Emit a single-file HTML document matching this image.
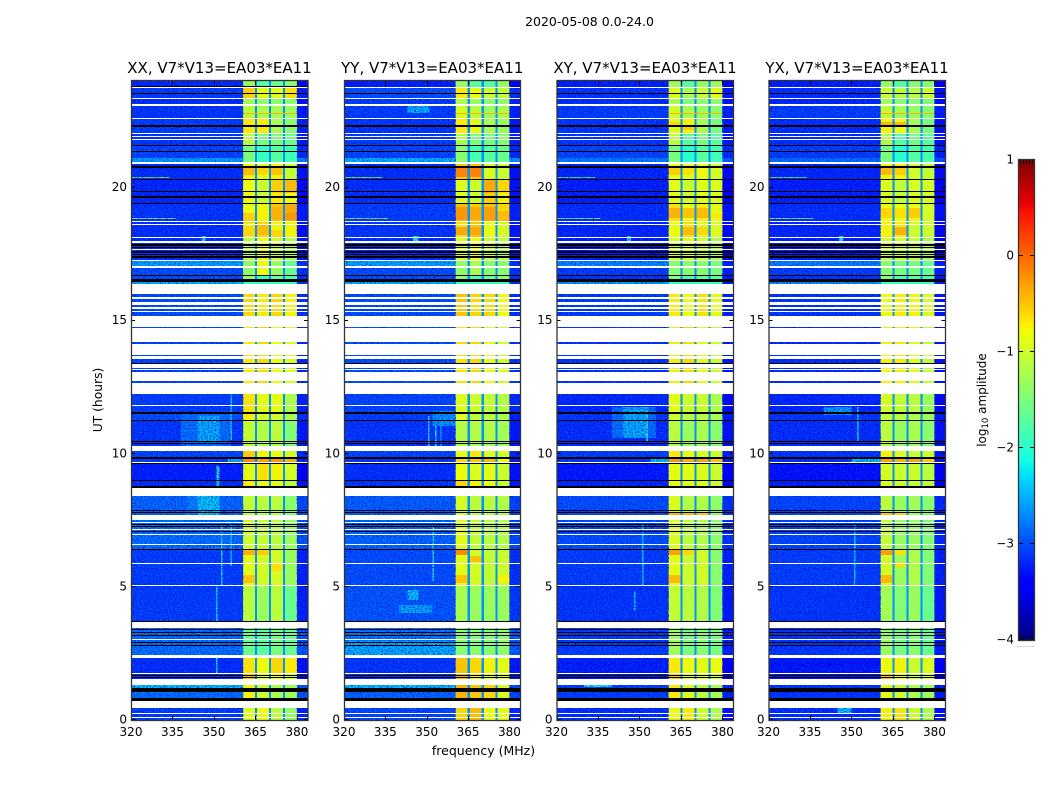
<!DOCTYPE html>
<html lang="en">
<head>
<meta charset="utf-8">
<title>2020-05-08 amplitude waterfall</title>
<style>
html,body{margin:0;padding:0;background:#fff;width:1050px;height:800px;overflow:hidden}
svg{display:block;position:absolute;left:0;top:0}
text{font-family:"DejaVu Sans","Liberation Sans",sans-serif;fill:#000}
rect.c{shape-rendering:crispEdges}
</style>
</head>
<body>
<svg id="fig" xmlns="http://www.w3.org/2000/svg" width="1050" height="800" viewBox="0 0 1050 800">
<defs>
<filter id="speckle-dark" x="0" y="0" width="1" height="1" color-interpolation-filters="sRGB">
<feTurbulence type="fractalNoise" baseFrequency="0.6 0.95" numOctaves="2" seed="4"/>
<feColorMatrix values="0 0 0 0 0  0 0 0 0 0  0 0 0 0 0.86  3.4 0 0 0 -1.45"/>
</filter>
<filter id="speckle-light" x="0" y="0" width="1" height="1" color-interpolation-filters="sRGB">
<feTurbulence type="fractalNoise" baseFrequency="0.6 0.95" numOctaves="2" seed="11"/>
<feColorMatrix values="0 0 0 0 0  0 0 0 0 0.58  0 0 0 0 1  0 3.2 0 0 -1.6"/>
</filter>
</defs>
<text x="589.5" y="26" font-size="12.5" text-anchor="middle">2020-05-08 0.0-24.0</text>
<text x="483.5" y="755" font-size="12.5" text-anchor="middle">frequency (MHz)</text>
<text x="102" y="400" font-size="12.3" text-anchor="middle" transform="rotate(-90 102 400)">UT (hours)</text>
<text x="986" y="400" font-size="12" text-anchor="middle" transform="rotate(-90 986 400)">log<tspan font-size="8.5" dy="2">10</tspan><tspan dy="-2"> amplitude</tspan></text>
</svg>
<script>
// ---------- chart data ----------
const panelNames = ['XX', 'YY', 'XY', 'YX'];
const baselineLabel = 'V7*V13=EA03*EA11';
const freqTicks = [320, 335, 350, 365, 380];
const utTicks = [0, 5, 10, 15, 20];
const colorbarTicks = [-4, -3, -2, -1, 0, 1];

// integration rows (row 0 = 24 UT, row 639 = 0 UT) for each block of similar amplitude
const bandStartRow = [0,6,17,24,37,52,64,77,82,98,122,140,156,179,194,213,246,313,331,339,370,377,382,399,415,439,469,504,547,577,592,604,619];
const bandEndRow   = [6,17,24,37,52,64,77,82,98,122,140,156,179,194,203,246,313,331,339,365,377,382,399,407,434,469,504,540,574,592,599,617,639];

// log10 amplitude per block: [off-band, spw1, spw2, spw3, spw4]
const xxLevels = [
[-3.2,-1.3,-1.7,-1.6,-1.4],[-3.05,-0.55,-0.85,-0.85,-0.65],[-3.15,-1.25,-1.35,-1.4,-1.4],[-3.1,-1.1,-1.2,-1.25,-1.3],
[-3.05,-0.7,-0.7,-1.2,-1.4],[-3.1,-1.1,-1.5,-1.5,-1.6],[-3.0,-1.5,-1.9,-1.7,-1.85],[-2.45,-1.5,-1.9,-1.7,-1.85],
[-3.15,-0.75,-0.9,-0.75,-1.05],[-3.2,-0.8,-1.0,-0.7,-0.8],[-3.1,-0.8,-0.75,-0.5,-0.35],[-3.15,-0.85,-0.6,-0.75,-0.75],
[-3.15,-1.1,-0.8,-1.0,-1.2],[-2.95,-1.35,-0.8,-1.3,-1.6],[-2.95,-1.4,-1.9,-1.6,-1.8],[-2.95,-0.6,-0.7,-0.6,-0.75],
[-3.0,-0.7,-0.6,-0.8,-0.9],[-3.05,-0.65,-0.85,-0.85,-1.2],[-2.95,-0.7,-0.95,-0.95,-1.2],[-3.1,-1.05,-1.15,-1.1,-1.45],
[-3.0,-0.55,-0.75,-0.8,-0.95],[-3.05,-0.2,-0.3,-0.25,-0.4],[-3.25,-0.85,-0.65,-0.75,-0.95],[-3.15,-0.7,-0.85,-0.85,-1.1],
[-2.8,-1.05,-1.1,-1.1,-1.4],[-2.75,-1.0,-1.05,-1.1,-1.3],[-3.05,-0.85,-0.95,-0.95,-1.3],[-3.05,-1.1,-1.3,-1.1,-1.6],
[-2.75,-1.6,-1.7,-1.5,-1.6],[-3.15,-0.65,-0.8,-0.6,-0.7],[-3.15,-0.45,-0.9,-0.8,-0.95],[-2.75,-0.75,-1.0,-1.2,-1.25],[-3.05,-0.9,-0.8,-1.1,-1.35]];
const yyLevels = [
[-3.25,-1.3,-1.7,-1.7,-1.3],[-2.95,-0.7,-0.8,-1.0,-1.05],[-3.05,-1.2,-1.3,-1.4,-1.35],[-3.05,-0.95,-1.1,-1.3,-1.2],
[-3.1,-0.7,-0.85,-1.2,-1.3],[-3.05,-1.2,-1.5,-1.5,-1.4],[-3.0,-1.4,-1.8,-1.7,-1.6],[-2.35,-1.4,-1.8,-1.7,-1.6],
[-3.15,-0.5,-0.5,-0.9,-1.0],[-3.15,-0.9,-1.0,-0.55,-0.75],[-3.05,-0.45,-0.55,-0.5,-0.6],[-3.1,-0.65,-0.5,-0.8,-0.95],
[-3.15,-0.9,-0.8,-1.0,-1.1],[-2.95,-1.35,-1.2,-1.4,-1.4],[-2.95,-1.4,-1.8,-1.6,-1.4],[-2.95,-0.5,-0.6,-0.6,-0.8],
[-2.95,-0.65,-0.6,-0.8,-0.95],[-3.0,-0.9,-1.0,-1.05,-1.15],[-3.05,-0.9,-1.1,-1.1,-1.2],[-3.1,-1.15,-1.15,-1.15,-1.25],
[-3.0,-0.85,-0.7,-0.9,-0.95],[-3.1,-0.6,-0.5,-0.45,-0.8],[-3.15,-0.8,-0.9,-0.85,-1.0],[-3.1,-0.6,-0.75,-0.8,-1.0],
[-2.85,-0.95,-1.1,-1.1,-1.15],[-2.8,-0.85,-1.05,-1.1,-1.15],[-2.95,-0.85,-0.95,-1.05,-1.0],[-2.9,-1.2,-1.3,-1.3,-1.3],
[-2.7,-1.4,-1.4,-1.4,-1.35],[-3.1,-0.5,-0.6,-0.75,-0.85],[-3.1,-0.4,-0.7,-0.8,-0.9],[-2.8,-0.4,-0.5,-0.6,-0.9],[-3.0,-0.6,-0.45,-0.8,-0.85]];
const xyLevels = [
[-3.25,-1.25,-1.7,-1.3,-1.3],[-3.1,-0.9,-1.2,-1.0,-0.85],[-3.15,-1.2,-1.5,-1.4,-1.4],[-3.05,-0.95,-1.2,-1.3,-1.4],
[-3.1,-0.85,-0.75,-1.2,-1.5],[-3.1,-1.1,-1.7,-1.5,-1.7],[-3.0,-1.5,-2.0,-1.7,-1.85],[-2.65,-1.5,-2.0,-1.7,-1.85],
[-3.2,-0.8,-0.9,-0.8,-0.95],[-3.25,-0.85,-1.0,-0.85,-0.9],[-3.15,-0.65,-0.8,-0.7,-0.85],[-3.2,-0.8,-0.65,-0.9,-0.9],
[-3.25,-0.95,-0.9,-1.0,-1.2],[-3.05,-1.4,-1.4,-1.4,-1.5],[-3.1,-1.4,-1.8,-1.6,-1.7],[-3.05,-0.7,-0.8,-0.65,-0.85],
[-3.1,-0.7,-0.6,-0.85,-1.0],[-3.2,-0.85,-1.0,-1.0,-1.2],[-3.1,-0.95,-1.1,-1.1,-1.2],[-3.15,-1.1,-1.3,-1.2,-1.4],
[-3.05,-0.7,-0.85,-0.95,-1.0],[-3.1,-0.25,-0.35,-0.3,-0.5],[-3.3,-0.85,-0.85,-0.9,-1.0],[-3.2,-0.8,-0.9,-0.9,-1.0],
[-2.95,-0.9,-1.15,-1.15,-1.35],[-2.95,-0.9,-1.1,-1.15,-1.4],[-3.05,-0.85,-1.0,-0.95,-1.4],[-3.1,-1.05,-1.1,-1.15,-1.45],
[-3.05,-1.25,-1.5,-1.4,-1.5],[-3.25,-0.7,-0.8,-0.85,-0.8],[-3.25,-0.5,-0.9,-0.9,-1.0],[-3.05,-0.7,-0.9,-1.1,-1.2],[-3.15,-0.8,-0.7,-1.0,-1.2]];
const yxLevels = [
[-3.25,-1.3,-1.7,-1.4,-1.4],[-3.15,-1.0,-1.1,-1.1,-1.0],[-3.2,-1.25,-1.4,-1.4,-1.45],[-3.05,-1.05,-1.25,-1.3,-1.4],
[-3.15,-0.75,-0.8,-1.2,-1.5],[-3.15,-1.15,-1.7,-1.55,-1.7],[-3.05,-1.5,-2.0,-1.7,-1.8],[-2.75,-1.5,-2.0,-1.7,-1.8],
[-3.2,-0.75,-0.75,-0.95,-1.05],[-3.25,-0.9,-1.05,-0.9,-0.95],[-3.15,-0.8,-0.8,-0.8,-0.95],[-3.2,-0.75,-0.7,-1.0,-1.0],
[-3.25,-1.0,-1.0,-1.05,-1.2],[-3.05,-1.4,-1.5,-1.5,-1.6],[-3.1,-1.4,-1.8,-1.65,-1.75],[-3.1,-0.8,-0.7,-0.75,-0.9],
[-3.15,-0.75,-0.7,-0.85,-1.05],[-3.2,-0.95,-1.05,-1.1,-1.3],[-3.1,-1.05,-1.15,-1.15,-1.3],[-3.15,-1.1,-1.3,-1.2,-1.4],
[-3.1,-0.75,-0.9,-1.0,-1.0],[-3.15,-0.3,-0.4,-0.35,-0.55],[-3.35,-0.95,-1.0,-1.0,-1.1],[-3.25,-0.9,-1.0,-1.0,-1.05],
[-3.0,-1.1,-1.3,-1.25,-1.4],[-3.0,-1.05,-1.3,-1.3,-1.45],[-3.05,-0.95,-1.3,-1.15,-1.45],[-3.1,-1.25,-1.45,-1.3,-1.6],
[-3.1,-1.3,-1.5,-1.4,-1.6],[-3.3,-0.8,-0.75,-1.0,-0.9],[-3.3,-0.5,-0.8,-1.0,-1.0],[-3.1,-0.85,-1.0,-1.15,-1.25],[-3.15,-0.75,-0.65,-1.0,-1.2]];

// spectral windows in MHz and the level of the gaps between them
const spwStartMHz = [360.5, 365.6, 370.7, 375.7];
const spwEndMHz   = [364.8, 369.9, 374.9, 380];
const offBandStartMHz = [320, 380];
const offBandEndMHz   = [360.5, 384];
const gapLevel = [-2.65];

// localized features: [startMHz, endMHz, startRow, endRow, log10 amplitude]
const xxFeatures = [[338,356,331,365,-2.75],[344,352,335,361,-2.4],[340,355,415,434,-2.65],[344,352,415,434,-2.25],[352,360.5,415,434,-2.8],[355,360.5,377,381,-2.4],
[350.8,351.3,504,540,-2.2],[352.5,353,444,504,-2.0],[356,356.5,444,485,-2.2],[350.8,351.3,574,592,-2.1],[356,356.5,314,359,-2.2],[351,352,385,406,-2.0],
[320,336,137,138,-1.2],[320,334,96,97,-1.4],[345.5,347,155,160,-1.8],[360.5,380,32,33,-0.4],[320,360.5,604,607,-2.3],
[320,360.5,180,185,-2.45],[320,360.5,201,203,-2.35],[360.5,380,201,203,-1.9],
[360.5,364.8,86,94,-0.45],[365.6,369.9,87,94,-0.6],[370.7,374.9,87,94,-0.5],[370.7,374.9,99,112,-0.55],[375.7,380,99,112,-0.45],
[370.7,374.9,126,139,-0.4],[375.7,380,132,139,-0.25],[360.5,364.8,132,142,-0.55],[365.6,369.9,144,154,-0.45],[360.5,364.8,145,155,-0.6],[370.7,374.9,149,156,-0.6],
[360.5,364.8,469,474,-0.4],[365.6,369.9,469,474,-0.55],[360.5,364.8,494,502,-0.5],[370.7,374.9,483,490,-0.65]];
const yyFeatures = [[343,351,24,32,-2.4],[320,360.5,560,574,-2.4],[343,347,509,519,-2.3],[340,352,524,532,-2.45],[352,360.5,330,345,-2.55],
[350.5,351,335,370,-2.0],[353,353.5,345,365,-2.1],[355,355.4,345,370,-2.2],[352,352.6,444,500,-2.0],[320,336,137,138,-1.2],[320,334,96,97,-1.4],
[345,347,155,160,-1.9],[360.5,380,32,33,-0.4],[320,360.5,604,607,-2.3],
[320,360.5,180,185,-2.45],[320,360.5,201,203,-2.35],[360.5,380,201,203,-1.9],
[360.5,364.8,87,96,-0.15],[365.6,369.9,87,96,-0.15],[370.7,374.9,99,112,-0.35],[375.7,380,99,112,-0.6],
[360.5,364.8,126,139,-0.25],[365.6,369.9,126,139,-0.35],[370.7,374.9,126,140,-0.3],[375.7,380,130,140,-0.45],[360.5,364.8,146,154,-0.35],[365.6,369.9,146,154,-0.35],
[360.5,364.8,469,474,-0.2],[360.5,364.8,494,502,-0.5],[365.6,369.9,475,481,-0.5],[375.7,380,494,502,-0.75]];
const xyFeatures = [[340,356,326,357,-2.75],[344,353,326,357,-2.4],[354,360.5,377,382,-2.3],[351,351.5,444,504,-2.2],[348,348.5,510,530,-2.2],[352.5,353,326,360,-2.0],
[320,336,137,138,-1.3],[320,334,96,97,-1.6],[345.5,347,155,160,-2.0],[360.5,380,32,33,-0.4],[330,340,604,606,-2.0],
[320,360.5,180,185,-2.6],[320,360.5,201,203,-2.5],[360.5,380,201,203,-1.9],
[360.5,364.8,41,44,-0.6],[365.6,369.9,46,49,-0.55],[360.5,364.8,87,94,-0.55],[365.6,369.9,87,94,-0.65],
[360.5,364.8,127,137,-0.4],[365.6,369.9,127,137,-0.5],[370.7,374.9,127,137,-0.45],[375.7,380,132,137,-0.7],[365.6,369.9,146,154,-0.45],[370.7,374.9,146,154,-0.6],
[360.5,364.8,431,434,-0.4],[365.6,369.9,431,434,-0.45],[370.7,374.9,431,434,-0.5],[360.5,364.8,469,474,-0.3],[365.6,369.9,469,474,-0.6],[360.5,364.8,494,502,-0.45]];
const yxFeatures = [[340,350,326,334,-2.5],[350,360.5,377,382,-2.3],[345,350,627,632,-2.3],[351,351.5,444,504,-2.2],[352,352.5,326,360,-2.1],
[320,336,137,138,-1.3],[320,334,96,97,-1.6],[345.5,347,155,160,-2.0],[360.5,380,32,33,-0.4],
[320,360.5,180,185,-2.65],[320,360.5,201,203,-2.55],[360.5,380,201,203,-1.9],
[360.5,364.8,41,45,-0.45],[365.6,369.9,41,45,-0.45],[360.5,364.8,87,94,-0.45],[365.6,369.9,87,94,-0.55],
[360.5,364.8,127,137,-0.6],[365.6,369.9,127,137,-0.65],[370.7,374.9,127,137,-0.55],[365.6,369.9,146,154,-0.4],
[360.5,364.8,431,434,-0.5],[365.6,369.9,431,434,-0.6],[360.5,364.8,469,474,-0.3],[365.6,369.9,469,474,-0.65],[360.5,364.8,494,502,-0.45],[365.6,369.9,481,486,-0.65]];

// rows with no data (white) as [start, end]
const flaggedRows = [[6,7],[17,18],[23,25],[37,38],[52,53],[55,56],[58,59],[81,83],[140,141],[143,144],[156,157],[160,162],[168,169],[179,180],[185,187],
[203,213],[216,218],[221,224],[226,228],[230,231],[235,246],[247,261],[263,274],[275,278],[283,287],[288,289],[291,300],[302,313],
[324,325],[365,370],[381,382],[407,415],[434,439],[441,442],[448,449],[453,454],[463,464],[482,483],[504,505],[541,547],[558,559],[574,577],[592,593],[598,604],[620,627],[632,633],[636,637]];
// rows drawn black as [start, end]
const blackRows = [[12,13],[44,46],[64,65],[70,71],[85,87],[98,99],[110,111],[115,117],[122,123],[163,165],[166,167],[170,172],[173,174],[175,177],
[194,195],[198,201],[282,283],[331,333],[339,340],[360,361],[362,363],[376,378],[382,383],[399,400],[405,407],[429,430],[431,432],[443,444],[445,446],[450,451],[468,469],
[540,541],[548,549],[551,552],[554,555],[561,562],[564,565],[594,595],[596,597],[607,611],[617,620]];
const rowCount = [639];

// ---------- layout (not data) ----------
const panelLeft = [131, 344, 556.5, 768.5];
const panelWidths = [177, 176.5, 177, 177];
const panelTop = 81, panelHeight = 639;
const levelsByPanel = [xxLevels, yyLevels, xyLevels, yxLevels];
const featuresByPanel = [xxFeatures, yyFeatures, xyFeatures, yxFeatures];
const NS = 'http://www.w3.org/2000/svg';
const fig = document.getElementById('fig');

function interp(stops, t) {
  for (let i = 1; i < stops.length; i++) {
    if (t <= stops[i][0]) {
      const a = stops[i - 1], b = stops[i];
      return a[1] + (b[1] - a[1]) * (t - a[0]) / (b[0] - a[0]);
    }
  }
  return stops[stops.length - 1][1];
}
const jetR = [[0,0],[0.35,0],[0.66,1],[0.89,1],[1,0.5]];
const jetG = [[0,0],[0.125,0],[0.375,1],[0.64,1],[0.91,0],[1,0]];
const jetB = [[0,0.5],[0.11,1],[0.34,1],[0.65,0],[1,0]];
function colorOf(level) {
  const t = Math.max(0, Math.min(1, (level + 4) / 5));
  const c = s => Math.round(255 * interp(s, t));
  return 'rgb(' + c(jetR) + ',' + c(jetG) + ',' + c(jetB) + ')';
}
function rowToUT(r) { return 24 - r * 24 / rowCount[0]; }
function timeY(ut) { return panelTop + (24 - ut) / 24 * panelHeight; }
function freqX(p, mhz) { return panelLeft[p] + (mhz - 320) / 64 * panelWidths[p]; }

function cell(parent, p, f0, f1, r0, r1, fill, name) {
  const el = document.createElementNS(NS, 'rect');
  const x0 = freqX(p, f0), x1 = freqX(p, f1), y0 = timeY(rowToUT(r0)), y1 = timeY(rowToUT(r1));
  el.setAttribute('class', 'c');
  el.setAttribute('x', x0.toFixed(2));
  el.setAttribute('y', y0.toFixed(2));
  el.setAttribute('width', (x1 - x0).toFixed(2));
  el.setAttribute('height', (y1 - y0).toFixed(2));
  el.setAttribute('fill', fill);
  
  
  parent.appendChild(el);
  return el;
}
function line(parent, x1, y1, x2, y2, name) {
  const el = document.createElementNS(NS, 'line');
  el.setAttribute('x1', x1); el.setAttribute('y1', y1);
  el.setAttribute('x2', x2); el.setAttribute('y2', y2);
  el.setAttribute('stroke', '#000');
  el.setAttribute('stroke-width', '1');
  
  
  parent.appendChild(el);
}
function label(parent, x, y, txt, anchor, size, name) {
  const el = document.createElementNS(NS, 'text');
  el.setAttribute('x', x); el.setAttribute('y', y);
  el.setAttribute('text-anchor', anchor);
  el.setAttribute('font-size', size);
  
  
  el.textContent = txt;
  parent.appendChild(el);
}
function speckle(parent, p, f0, f1, filterId, opacity, name) {
  const el = document.createElementNS(NS, 'rect');
  el.setAttribute('x', freqX(p, f0));
  el.setAttribute('y', panelTop);
  el.setAttribute('width', freqX(p, f1) - freqX(p, f0));
  el.setAttribute('height', panelHeight);
  el.setAttribute('filter', 'url(#' + filterId + ')');
  el.setAttribute('opacity', opacity);
  
  
  parent.appendChild(el);
}

panelNames.forEach(function (pol, p) {
  const g = document.createElementNS(NS, 'g');
  
  
  fig.appendChild(g);

  const levels = levelsByPanel[p];
  bandStartRow.forEach(function (start, b) {
    const end = bandEndRow[b], lv = levels[b];
    offBandStartMHz.forEach(function (f0, k) {
      cell(g, p, f0, offBandEndMHz[k], start, end, colorOf(lv[0] - (k ? 0.12 : 0)), 'heatmap-offband-cell');
    });
    cell(g, p, spwEndMHz[0], spwStartMHz[1], start, end, colorOf(gapLevel[0]), 'heatmap-gap-cell');
    cell(g, p, spwEndMHz[1], spwStartMHz[2], start, end, colorOf(gapLevel[0]), 'heatmap-gap-cell');
    cell(g, p, spwEndMHz[2], spwStartMHz[3], start, end, colorOf(gapLevel[0]), 'heatmap-gap-cell');
    spwStartMHz.forEach(function (f0, k) {
      cell(g, p, f0, spwEndMHz[k], start, end, colorOf(lv[k + 1]), 'heatmap-spw-cell');
    });
  });
  featuresByPanel[p].forEach(function (f) {
    cell(g, p, f[0], f[1], f[2], f[3], colorOf(f[4]), 'heatmap-feature');
  });

  speckle(g, p, 320, 360.5, 'speckle-dark', 0.8, 'noise-texture-dark');
  speckle(g, p, 320, 360.5, 'speckle-light', 0.6, 'noise-texture-light');
  speckle(g, p, 380, 384, 'speckle-dark', 0.8, 'noise-texture-dark');
  speckle(g, p, 360.5, 380, 'speckle-light', 0.1, 'noise-texture-band');

  flaggedRows.forEach(function (r) {
    cell(g, p, 320, 384, r[0], r[1], '#ffffff', 'flagged-rows');
  });
  blackRows.forEach(function (r) {
    cell(g, p, 320, 384, r[0], r[1], '#000000', 'masked-rows');
  });
  if (p === 0) {
    cell(g, p, 320, 384, 5, 6, '#000000', 'masked-rows');
  }

  const left = panelLeft[p], right = left + panelWidths[p], bottom = panelTop + panelHeight;
  freqTicks.forEach(function (f) {
    const x = Math.round(freqX(p, f)) + 0.5;
    line(g, x, bottom, x, bottom - 4, 'x-tick');
    line(g, x, panelTop, x, panelTop + 4, 'x-tick-top');
    label(g, freqX(p, f), bottom + 16, String(f), 'middle', 12, 'x-tick-label');
  });
  utTicks.forEach(function (u) {
    const y = Math.round(timeY(u)) - 0.5;
    line(g, left, y, left + 4, y, 'y-tick');
    line(g, right, y, right - 4, y, 'y-tick-right');
    label(g, left - 4, timeY(u) + 3.5, String(u), 'end', 12, 'y-tick-label');
  });

  const frame = document.createElementNS(NS, 'rect');
  frame.setAttribute('x', left + 0.5);
  frame.setAttribute('y', panelTop - 0.5);
  frame.setAttribute('width', panelWidths[p] - 0.5);
  frame.setAttribute('height', panelHeight + 1);
  frame.setAttribute('fill', 'none');
  frame.setAttribute('stroke', '#333');
  frame.setAttribute('stroke-width', '1.3');
  
  
  g.appendChild(frame);

  label(g, left + panelWidths[p] / 2, 73, pol + ', ' + baselineLabel, 'middle', 15, 'panel-title');
});

// ---------- colorbar ----------
const cbarLeft = 1019, cbarRight = 1034, cbarTop = 160, cbarHeight = 480;
const cbarGroup = document.createElementNS(NS, 'g');


fig.appendChild(cbarGroup);
function cbarY(level) { return cbarTop + (1 - level) / 5 * cbarHeight; }
for (let i = 0; i < 240; i++) {
  const el = document.createElementNS(NS, 'rect');
  el.setAttribute('class', 'c');
  el.setAttribute('x', cbarLeft);
  el.setAttribute('y', cbarTop + i * 2);
  el.setAttribute('width', cbarRight - cbarLeft);
  el.setAttribute('height', 2);
  el.setAttribute('fill', colorOf(1 - (i + 0.5) / 240 * 5));
  
  
  cbarGroup.appendChild(el);
}
colorbarTicks.forEach(function (t) {
  const y = Math.round(cbarY(t)) - 0.5;
  if (t > -4 && t < 1) {
    line(cbarGroup, cbarLeft, y, cbarLeft + 4, y, 'colorbar-tick');
    line(cbarGroup, cbarRight, y, cbarRight - 4, y, 'colorbar-tick');
  }
  const txt = (t < 0 ? '\u2212' + Math.abs(t) : String(t));
  label(cbarGroup, 1014, cbarY(t) + 3.5, txt, 'end', 12, 'colorbar-tick-label');
});
[1, 4, 7, 10, 13].forEach(function (d) {
  line(cbarGroup, cbarLeft + d + 0.5, cbarTop, cbarLeft + d + 0.5, cbarTop + 4, 'colorbar-minor-tick');
  line(cbarGroup, cbarLeft + d + 0.5, cbarTop + cbarHeight, cbarLeft + d + 0.5, cbarTop + cbarHeight - 4, 'colorbar-minor-tick');
});
const cbarFrame = document.createElementNS(NS, 'rect');
cbarFrame.setAttribute('x', cbarLeft - 0.5);
cbarFrame.setAttribute('y', cbarTop - 0.5);
cbarFrame.setAttribute('width', cbarRight - cbarLeft + 1);
cbarFrame.setAttribute('height', cbarHeight + 1);
cbarFrame.setAttribute('fill', 'none');
cbarFrame.setAttribute('stroke', '#333');
cbarFrame.setAttribute('stroke-width', '1.3');


cbarGroup.appendChild(cbarFrame);
[0, 1, 2, 3, 4, 5].forEach(function (i) {
  const dot = document.createElementNS(NS, 'rect');
  dot.setAttribute('x', 1017.5 + i * 3);
  dot.setAttribute('y', 646);
  dot.setAttribute('width', 1);
  dot.setAttribute('height', 1);
  dot.setAttribute('fill', '#999');
  
  
  cbarGroup.appendChild(dot);
});
</script>
</body>
</html>
